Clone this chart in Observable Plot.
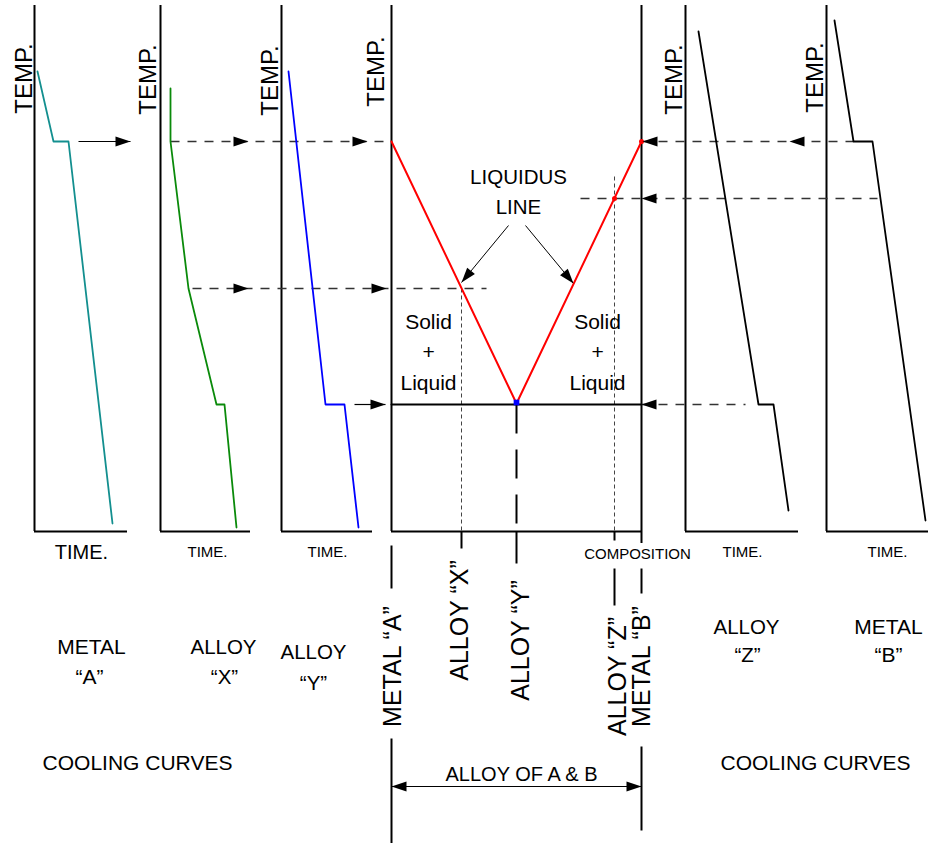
<!DOCTYPE html>
<html>
<head>
<meta charset="utf-8">
<script src="https://cdn.jsdelivr.net/npm/d3@7"></script>
<script src="https://cdn.jsdelivr.net/npm/@observablehq/plot@0.6"></script>
<style>
  html, body { margin: 0; padding: 0; background: #fff; }
  #chart svg { display: block; }
</style>
</head>
<body>
<div id="chart"></div>
<script>
// ---------- DATA (x = layout position along the sheet, T = temperature units; T = 0 on the time axes) ----------
const panels = [
  {panel: "Metal A", x0: 34, x1: 127},
  {panel: "Alloy X", x0: 160, x1: 250},
  {panel: "Alloy Y", x0: 281, x1: 372},
  {panel: "Alloy of A & B", x0: 391, x1: 641},
  {panel: "Alloy Z", x0: 685, x1: 798},
  {panel: "Metal B", x0: 826, x1: 928}
];
const axisTop = 526;

// cooling curves (time position, temperature)
const metalA = [{t: 37, T: 460}, {t: 53, T: 390}, {t: 68, T: 390}, {t: 112, T: 8}];
const alloyX = [{t: 170, T: 443}, {t: 170, T: 390}, {t: 188, T: 243}, {t: 216, T: 127}, {t: 224, T: 127}, {t: 236, T: 4}];
const alloyY = [{t: 288, T: 460}, {t: 325, T: 127}, {t: 344, T: 127}, {t: 358, T: 4}];
const alloyZ = [{t: 698, T: 500}, {t: 758, T: 127}, {t: 773, T: 127}, {t: 788, T: 21}];
const metalB = [{t: 834, T: 511}, {t: 853, T: 390}, {t: 872, T: 390}, {t: 925, T: 11}];

// phase diagram (composition position, temperature)
const liquidus = [{c: 391, T: 390}, {c: 516, T: 128}, {c: 641, T: 390}];
const eutectic = [{c: 391, T: 127}, {c: 641, T: 127}];
const rightAxisAB = [{x: 641, T1: -12, T2: axisTop}];
const liquidusPoints = [{x: 641, T: 390}, {x: 614, T: 333}];
const eutecticPoint = [{x: 516, T: 129}];

// connectors
const dashedConnectors = [
  {x1: 170, x2: 391, T: 390},
  {x1: 192, x2: 486, T: 243},
  {x1: 641, x2: 853, T: 390},
  {x1: 580, x2: 877, T: 333},
  {x1: 641, x2: 745, T: 127}
];
const solidConnectors = [
  {x1: 78, x2: 130, T: 390},
  {x1: 354, x2: 385, T: 127},
  {x1: 391, x2: 641, T: -255}
];
const pointers = [
  {x1: 508, T1: 306, x2: 461, T2: 249},
  {x1: 525, T1: 306, x2: 573, T2: 248}
];
const headsRight = [
  {x: 130, T: 390}, {x: 248, T: 390}, {x: 367, T: 390},
  {x: 248, T: 243}, {x: 386, T: 243}, {x: 385, T: 127}, {x: 641, T: -255}
];
const headsLeft = [
  {x: 642, T: 390}, {x: 789, T: 390}, {x: 641, T: 333}, {x: 641, T: 127}, {x: 391, T: -255}
];
const pointerHeads = [
  {x: 461, T: 249, angle: 129.5},
  {x: 573, T: 248, angle: 50.4}
];

// vertical guides
const thinGuides = [{x: 461, T1: 243, T2: 0}, {x: 614, T1: 355, T2: 0}];
const eutecticGuide = [{x: 516, T1: 127, T2: 0}];
const ticks = [
  {x: 461, T1: 0, T2: -17}, {x: 516, T1: 0, T2: -32}, {x: 614, T1: 0, T2: -9},
  {x: 614, T1: -37, T2: -74}, {x: 641, T1: -37, T2: -62},
  {x: 391, T1: -14, T2: -57}, {x: 391, T1: -207, T2: -312}, {x: 641, T1: -215, T2: -299}
];

// labels
const hLabels = [
  {x: 81, T: -21, text: "TIME.", size: 20},
  {x: 207, T: -21, text: "TIME.", size: 15},
  {x: 327, T: -21, text: "TIME.", size: 15},
  {x: 742, T: -21, text: "TIME.", size: 15},
  {x: 887, T: -21, text: "TIME.", size: 15},
  {x: 637, T: -23, text: "COMPOSITION", size: 15},
  {x: 518, T: 354, text: "LIQUIDUS", size: 20.5},
  {x: 518, T: 324, text: "LINE", size: 20.5},
  {x: 428, T: 209, text: "Solid", size: 21},
  {x: 428, T: 179, text: "+", size: 21},
  {x: 428, T: 148, text: "Liquid", size: 21},
  {x: 597, T: 209, text: "Solid", size: 21},
  {x: 597, T: 179, text: "+", size: 21},
  {x: 597, T: 148, text: "Liquid", size: 21},
  {x: 91, T: -116, text: "METAL", size: 21},
  {x: 89, T: -146, text: "“A”", size: 21},
  {x: 223, T: -116, text: "ALLOY", size: 20.5},
  {x: 224, T: -146, text: "“X”", size: 20.5},
  {x: 313, T: -121, text: "ALLOY", size: 20.5},
  {x: 313, T: -152, text: "“Y”", size: 20.5},
  {x: 746, T: -96, text: "ALLOY", size: 20.5},
  {x: 747, T: -124, text: "“Z”", size: 20.5},
  {x: 888, T: -96, text: "METAL", size: 21},
  {x: 888, T: -124, text: "“B”", size: 21},
  {x: 137, T: -232, text: "COOLING CURVES", size: 21},
  {x: 815, T: -232, text: "COOLING CURVES", size: 21},
  {x: 521, T: -243, text: "ALLOY OF A & B", size: 20}
];
const tempLabels = [
  {x: 23.5, T: 453}, {x: 148, T: 452}, {x: 270, T: 451},
  {x: 376, T: 460}, {x: 674, T: 452}, {x: 815, T: 454}
];
const compositionLabels = [
  {x: 392, T: -135, text: "METAL “A”"},
  {x: 459, T: -89, text: "ALLOY “X”"},
  {x: 520, T: -109, text: "ALLOY “Y”"},
  {x: 617, T: -145, text: "ALLOY “Z”"},
  {x: 641, T: -135, text: "METAL “B”"}
];

// ---------- arrowhead symbol (tip at the data point) ----------
function head(angleDeg, L = 15, W = 5) {
  const a = angleDeg * Math.PI / 180, c = Math.cos(a), s = Math.sin(a);
  return {
    draw(ctx) {
      ctx.moveTo(0, 0);
      ctx.lineTo(-L * c - W * s, -L * s + W * c);
      ctx.lineTo(-L * c + W * s, -L * s - W * c);
      ctx.closePath();
    }
  };
}

const dash = "9,8";
const chart = Plot.plot({
  width: 928,
  height: 843,
  margin: 0,
  x: {domain: [0, 928], axis: null},
  y: {domain: [-312, 531], axis: null},
  style: {fontFamily: "'Liberation Sans', Arial, sans-serif", color: "black", background: "white"},
  marks: [
    // axes
    Plot.ruleX(panels, {x: "x0", y1: 0, y2: axisTop, strokeWidth: 2}),
    Plot.ruleY(panels, {y: 0, x1: "x0", x2: "x1", strokeWidth: 2}),
    Plot.ruleX(rightAxisAB, {x: "x", y1: "T1", y2: "T2", strokeWidth: 2}),

    // guides
    Plot.link(thinGuides, {x1: "x", x2: "x", y1: "T1", y2: "T2", stroke: "#444", strokeWidth: 1, strokeDasharray: "4,3"}),
    Plot.link(eutecticGuide, {x1: "x", x2: "x", y1: "T1", y2: "T2", stroke: "black", strokeWidth: 2, strokeDasharray: "29,16"}),
    Plot.link(ticks, {x1: "x", x2: "x", y1: "T1", y2: "T2", stroke: "black", strokeWidth: 2}),

    // connectors
    Plot.link(dashedConnectors, {x1: "x1", x2: "x2", y1: "T", y2: "T", stroke: "#333", strokeWidth: 1.3, strokeDasharray: dash}),
    Plot.link(solidConnectors, {x1: "x1", x2: "x2", y1: "T", y2: "T", stroke: "black", strokeWidth: 1.2}),
    Plot.link(pointers, {x1: "x1", x2: "x2", y1: "T1", y2: "T2", stroke: "black", strokeWidth: 1}),

    // phase diagram
    Plot.line(eutectic, {x: "c", y: "T", stroke: "black", strokeWidth: 2}),
    Plot.line(liquidus, {x: "c", y: "T", stroke: "#ff0000", strokeWidth: 2}),

    // cooling curves
    Plot.line(metalA, {x: "t", y: "T", stroke: "#138f8f", strokeWidth: 1.8}),
    Plot.line(alloyX, {x: "t", y: "T", stroke: "#0a8a0a", strokeWidth: 1.8}),
    Plot.line(alloyY, {x: "t", y: "T", stroke: "#0000ff", strokeWidth: 1.8}),
    Plot.line(alloyZ, {x: "t", y: "T", stroke: "black", strokeWidth: 1.8}),
    Plot.line(metalB, {x: "t", y: "T", stroke: "black", strokeWidth: 1.8}),

    // points
    Plot.dot(liquidusPoints, {x: "x", y: "T", r: 2.5, fill: "#ff0000", stroke: "none"}),
    Plot.dot(eutecticPoint, {x: "x", y: "T", r: 3.2, symbol: "square", fill: "#0000ff", stroke: "none"}),

    // arrowheads
    Plot.dot(headsRight, {x: "x", y: "T", r: 5, symbol: head(0), fill: "black", stroke: "none"}),
    Plot.dot(headsLeft, {x: "x", y: "T", r: 5, symbol: head(180), fill: "black", stroke: "none"}),
    Plot.dot(pointerHeads.slice(0, 1), {x: "x", y: "T", r: 5, symbol: head(pointerHeads[0].angle), fill: "black", stroke: "none"}),
    Plot.dot(pointerHeads.slice(1), {x: "x", y: "T", r: 5, symbol: head(pointerHeads[1].angle), fill: "black", stroke: "none"}),

    // labels
    Plot.text(hLabels, {x: "x", y: "T", text: "text", fontSize: d => d.size, fill: "black", ariaLabel: "hlabel"}),
    Plot.text(tempLabels, {x: "x", y: "T", text: () => "TEMP.", fontSize: 24, rotate: -90, fill: "black"}),
    Plot.text(compositionLabels, {x: "x", y: "T", text: "text", fontSize: 25, rotate: -90, fill: "black"})
  ]
});

document.getElementById("chart").append(chart);

// the drawing's horizontal lettering is tall and narrow: stretch it vertically
d3.select(chart).selectAll('g[aria-label="hlabel"] text').each(function () {
  const el = d3.select(this);
  const t = el.attr("transform");
  if (t) {
    el.attr("transform", t + " scale(1,1.2)");
  } else {
    const x = +el.attr("x") || 0, y = +el.attr("y") || 0;
    el.attr("x", null).attr("y", null).attr("transform", `translate(${x},${y}) scale(1,1.2)`);
  }
});
</script>
</body>
</html>
